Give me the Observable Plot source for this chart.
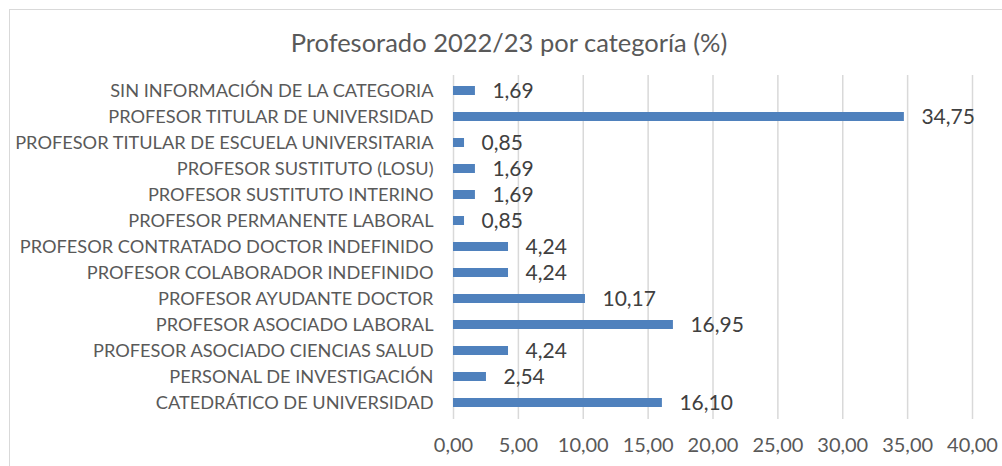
<!DOCTYPE html>
<html>
<head>
<meta charset="utf-8">
<script src="https://cdn.jsdelivr.net/npm/d3@7"></script>
<script src="https://cdn.jsdelivr.net/npm/@observablehq/plot@0.6"></script>
<style>
  html, body { margin: 0; padding: 0; background: #fff; }
  body { width: 1002px; height: 466px; position: relative; overflow: hidden; font-family: Lato, "Open Sans", sans-serif; }
  #frame { position: absolute; left: 9px; top: 9px; width: 1010px; height: 480px; border: 1px solid #d9d9d9; box-sizing: border-box; }
  #title { position: absolute; left: 0; width: 1018px; top: 26px; text-align: center; font-size: 25.5px; color: #595959; line-height: 32px; }
  #chart { position: absolute; left: 0; top: 0; }
</style>
</head>
<body>
<div id="frame"></div>
<div id="chart"></div>
<div id="title">Profesorado 2022/23 por categoría (%)</div>
<script>
const categories = [
  "SIN INFORMACIÓN DE LA CATEGORIA",
  "PROFESOR TITULAR DE UNIVERSIDAD",
  "PROFESOR TITULAR DE ESCUELA UNIVERSITARIA",
  "PROFESOR SUSTITUTO (LOSU)",
  "PROFESOR SUSTITUTO INTERINO",
  "PROFESOR PERMANENTE LABORAL",
  "PROFESOR CONTRATADO DOCTOR INDEFINIDO",
  "PROFESOR COLABORADOR INDEFINIDO",
  "PROFESOR AYUDANTE DOCTOR",
  "PROFESOR ASOCIADO LABORAL",
  "PROFESOR ASOCIADO CIENCIAS SALUD",
  "PERSONAL DE INVESTIGACIÓN",
  "CATEDRÁTICO DE UNIVERSIDAD"
];
const values = [1.69, 34.75, 0.85, 1.69, 1.69, 0.85, 4.24, 4.24, 10.17, 16.95, 4.24, 2.54, 16.10];
const xTicks = [0, 5, 10, 15, 20, 25, 30, 35, 40];

const data = categories.map((c, i) => ({cat: c, value: values[i]}));
const fmt = v => d3.format(".2f")(v).replace(".", ",");

const chart = Plot.plot({
  width: 1002,
  height: 466,
  marginTop: 75,
  marginBottom: 47,
  marginLeft: 453,
  marginRight: 30,
  style: {fontFamily: "Lato, 'Open Sans', sans-serif", background: "transparent", overflow: "visible"},
  x: {domain: [0, 40], label: null},
  y: {domain: categories, paddingInner: 0.65, paddingOuter: 0.325, label: null},
  marks: [
    Plot.gridX(xTicks, {stroke: "#d9d9d9", strokeOpacity: 1, strokeWidth: 1.5}),
    Plot.barX(data, {x: "value", y: "cat", fill: "#4F81BD"}),
    Plot.text(data, {x: "value", y: "cat", text: d => fmt(d.value), textAnchor: "start", dx: 17, fontSize: 21, fill: "#404040"}),
    Plot.axisX({ticks: xTicks, tickFormat: fmt, tickSize: 0, tickPadding: 18, fontSize: 20, fill: "#595959", label: null}),
    Plot.axisY({tickSize: 0, tickPadding: 20, fontSize: 18.2, fill: "#595959", label: null})
  ]
});
document.getElementById("chart").appendChild(chart);
</script>
</body>
</html>
